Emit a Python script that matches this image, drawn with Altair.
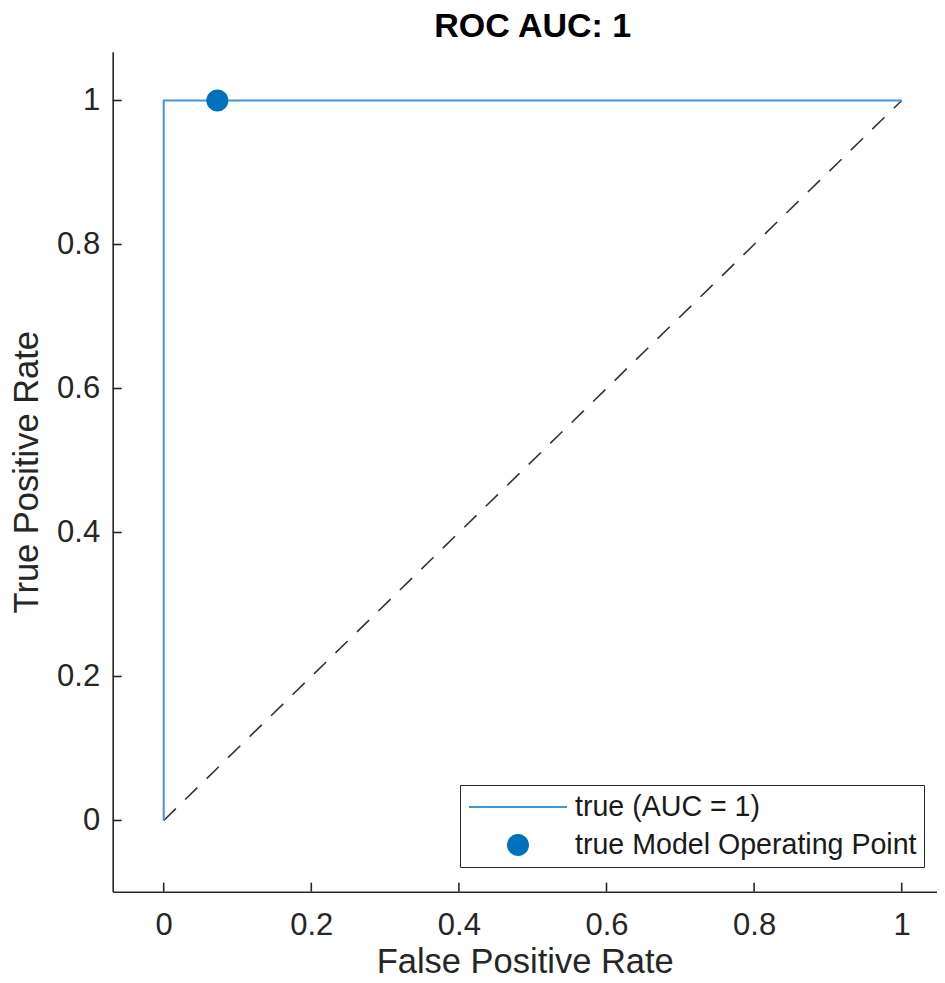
import altair as alt
import pandas as pd

# ---- data ----
roc_fpr = [0.0, 0.0, 1.0]
roc_tpr = [0.0, 1.0, 1.0]
diag_x = [0.0, 1.0]
diag_y = [0.0, 1.0]
op_fpr = [0.0727]
op_tpr = [1.0]
tick_values = [0, 0.2, 0.4, 0.6, 0.8, 1]

line_label = "true (AUC = 1)"
point_label = "true Model Operating Point"
title_text = "ROC AUC: 1"

FONT = "Liberation Sans, Arial, Helvetica, sans-serif"
AX = "#262626"
LINE_COLOR = "#3f95d8"
POINT_COLOR = "#0072BD"

W, H = 824, 840
xs = alt.Scale(domain=[-0.0691, 1.0474], nice=False, zero=False)
ys = alt.Scale(domain=[-0.0989, 1.0678], nice=False, zero=False)

roc_df = pd.DataFrame({"x": roc_fpr, "y": roc_tpr, "i": list(range(len(roc_fpr)))})
diag_df = pd.DataFrame({"x": diag_x, "y": diag_y, "i": list(range(len(diag_x)))})
op_df = pd.DataFrame({"x": op_fpr, "y": op_tpr, "series": [point_label] * len(op_fpr)})
ticks_df = pd.DataFrame({"x": tick_values, "y": tick_values})

x_axis = alt.Axis(values=tick_values, format="~g", title="False Positive Rate",
                  ticks=False, tickSize=0, grid=False, labelPadding=19,
                  titlePadding=5, labelFontSize=31, titleFontSize=34.5,
                  titleFontWeight="normal", labelColor=AX, titleColor=AX,
                  domainColor=AX, domainWidth=1.6, labelFont=FONT, titleFont=FONT)
y_axis = alt.Axis(values=tick_values, format="~g", title="True Positive Rate",
                  ticks=False, tickSize=0, grid=False, labelPadding=13,
                  titlePadding=12, labelFontSize=31, titleFontSize=34.5,
                  titleFontWeight="normal", labelColor=AX, titleColor=AX,
                  domainColor=AX, domainWidth=1.6, labelFont=FONT, titleFont=FONT)

X = alt.X("x:Q", scale=xs, axis=x_axis)
Y = alt.Y("y:Q", scale=ys, axis=y_axis)

diag = alt.Chart(diag_df).mark_line(color="#333333", strokeWidth=1.6,
                                    strokeDash=[17, 13]).encode(x=X, y=Y, order="i:Q")

roc = alt.Chart(roc_df).mark_line(color=LINE_COLOR, strokeWidth=2).encode(
    x=X, y=Y, order="i:Q")

circle_path = "M-0.2245,0A0.2245,0.2245 0 1,0 0.2245,0A0.2245,0.2245 0 1,0 -0.2245,0Z"
line_path = "M-1,-0.02H1V0.02H-1Z"

legend = alt.Legend(orient="none", legendX=347.3, legendY=733.3, title=None,
                    padding=7, clipHeight=30, rowPadding=8, symbolSize=9604,
                    symbolStrokeWidth=0, symbolOffset=2, labelOffset=8,
                    labelFontSize=28.6, labelFont=FONT, labelColor="#1a1a1a",
                    labelLimit=600, strokeColor=AX, fillColor="white")

op = alt.Chart(op_df).mark_point(filled=True, size=9604, opacity=1, strokeWidth=0).encode(
    x=X, y=Y,
    color=alt.Color("series:N", scale=alt.Scale(domain=[line_label, point_label],
                                                range=[LINE_COLOR, POINT_COLOR]),
                    legend=legend),
    shape=alt.Shape("series:N", scale=alt.Scale(domain=[line_label, point_label],
                                                range=[line_path, circle_path]),
                    legend=legend),
)

xticks = alt.Chart(ticks_df).mark_rule(color=AX, strokeWidth=1.6).encode(
    x=X, y=alt.value(H), y2=alt.value(H - 9))
yticks = alt.Chart(ticks_df).mark_rule(color=AX, strokeWidth=1.6).encode(
    y=Y, x=alt.value(0), x2=alt.value(9))

chart = alt.layer(diag, roc, xticks, yticks, op).properties(
    width=W, height=H,
    title=alt.TitleParams(title_text, fontSize=34, fontWeight="bold", font=FONT,
                          color="black", dx=8, offset=8, anchor="middle",
                          frame="group"),
    padding={"left": 104.7, "top": 43.7, "right": 0, "bottom": 83},
    autosize=alt.AutoSizeParams(type="none"),
).configure_view(stroke=None)

chart.save("out.html", embed_options={"renderer": "svg", "actions": False})
